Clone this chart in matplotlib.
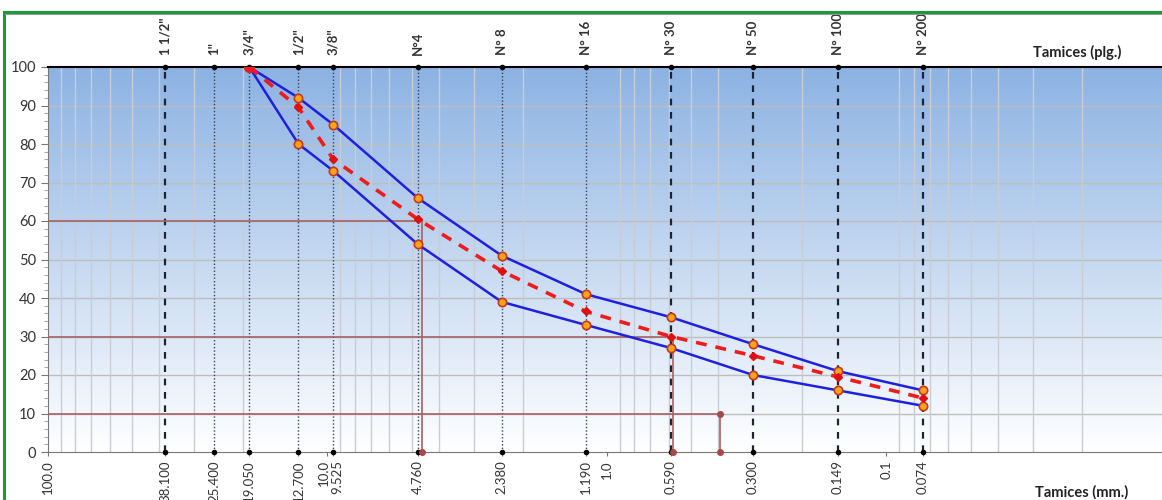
import numpy as np
import matplotlib
matplotlib.use("Agg")
import matplotlib.pyplot as plt
import matplotlib.transforms as mtransforms
from matplotlib.ticker import LogLocator, MultipleLocator, NullFormatter
from matplotlib.lines import Line2D

plt.rcParams['font.family'] = ['Lato', 'DejaVu Sans']

# tamices
tamiz_mm = [38.1, 25.4, 19.05, 12.7, 9.525, 4.76, 2.38, 1.19, 0.59, 0.3, 0.149, 0.074]
tamiz_plg = ['1 1/2"', '1"', '3/4"', '1/2"', '3/8"', 'N°4', 'N° 8', 'N° 16',
             'N° 30', 'N° 50', 'N° 100', 'N° 200']
tamiz_lbl = ['38.100', '25.400', '19.050', '12.700', '9.525', '4.760', '2.380',
             '1.190', '0.590', '0.300', '0.149', '0.074']
dec_val = [100.0, 10.0, 1.0, 0.1]
dec_lbl = ['100.0', '10.0', '1.0', '0.1']

# curvas (desde 3/4")
curva_mm = [19.05, 12.7, 9.525, 4.76, 2.38, 1.19, 0.59, 0.3, 0.149, 0.074]
lim_sup = [100, 92, 85, 66, 51, 41, 35, 28, 21, 16]
lim_inf = [100, 80, 73, 54, 39, 33, 27, 20, 16, 12]
muestra = [100, 89.5, 76, 60.5, 47, 36.5, 30, 25, 19.5, 14]

# D60, D30, D10
d_pct = [60, 30, 10]
d_mm = [4.6, 0.58, 0.395]

fig = plt.figure(figsize=(11.62, 5.0), dpi=100)
ax = fig.add_axes([48/1162, 1-452/500, (1162-48)/1162, 385/500])

# fondo degradado
grad = np.linspace(0, 1, 256).reshape(-1, 1)
top = np.array([0.55, 0.70, 0.89])
bot = np.array([1.0, 1.0, 1.0])
img = bot + (top - bot) * grad[..., None]
ax.imshow(img, extent=[0, 1, 0, 1], transform=ax.transAxes, origin='lower',
          aspect='auto', zorder=0)

ax.set_xscale('log')
ax.set_xlim(100, 0.01033)
ax.set_ylim(0, 100)

# rejilla
ax.xaxis.set_minor_locator(LogLocator(base=10, subs=np.arange(1, 10)))
ax.xaxis.set_minor_formatter(NullFormatter())
ax.grid(which='minor', axis='x', color='#c9cdd3', lw=1, zorder=1)
for v in range(10, 100, 10):
    ax.axhline(v, color='#bdbdbd', lw=1, zorder=1)

# lineas de tamices
for i, t in enumerate(tamiz_mm):
    if i == 0 or t < 1:
        ax.plot([t, t], [0, 100], color='#1c2333', lw=1.6, ls=(0, (3, 3)), zorder=2)
    else:
        ax.plot([t, t], [0, 100], color='#3a4256', lw=1, ls=(0, (1, 1.5)), zorder=2)
ax.plot(tamiz_mm, [100]*len(tamiz_mm), 'o', color='black', ms=3, zorder=5, clip_on=False)
ax.plot(tamiz_mm, [0]*len(tamiz_mm), 'o', color='black', ms=3, zorder=5, clip_on=False)

# D60, D30, D10
for p, d in zip(d_pct, d_mm):
    ax.plot([100, d], [p, p], color='#a86262', lw=1.2, zorder=3)
    ax.plot([d, d], [p, 0], color='#a86262', lw=1.2, zorder=3)
    ax.plot([d], [0], 'o', color='#a84848', ms=4, zorder=6, clip_on=False)
ax.plot([d_mm[2]], [d_pct[2]], 'o', color='#a84848', ms=4, zorder=6)

# curvas
for serie in (lim_sup, lim_inf):
    ax.plot(curva_mm, serie, color='#1f1fe0', lw=1.8, marker='o', ms=6,
            mfc='#f7a31c', mec='#c43a1a', mew=1.2, zorder=4)
ax.plot(curva_mm, muestra, color='#ee1c1c', lw=2.6, ls=(0, (3, 2.5)), marker='D', ms=4,
        mfc='#e01010', mec='#e01010', zorder=5)
ax.plot(curva_mm[:1], muestra[:1], 'o', color='#ee1c1c', ms=7, zorder=7)

# ejes
ax.set_xticks(dec_val + tamiz_mm)
ax.set_xticklabels(dec_lbl + tamiz_lbl, rotation=90, fontsize=9.5, color='#333333')
ax.tick_params(axis='x', which='major', length=3, color='#777777', pad=3)
ax.tick_params(axis='x', which='minor', length=0)
# separar 10.0 y 9.525
for lbl in ax.get_xticklabels():
    if lbl.get_text() == '10.0':
        lbl.set_transform(lbl.get_transform() + mtransforms.ScaledTranslation(-4/100, 0, fig.dpi_scale_trans))
    if lbl.get_text() == '9.525':
        lbl.set_transform(lbl.get_transform() + mtransforms.ScaledTranslation(4/100, 0, fig.dpi_scale_trans))
ax.yaxis.set_major_locator(MultipleLocator(10))
ax.yaxis.set_minor_locator(MultipleLocator(2))
ax.tick_params(axis='y', which='major', length=5, color='#777777', labelsize=10.5,
               labelcolor='#333333')
ax.tick_params(axis='y', which='minor', length=3, color='#999999')
for s in ('right', 'bottom', 'left'):
    ax.spines[s].set_color('#777777')
ax.spines['top'].set_color('black')
ax.spines['top'].set_linewidth(1.5)
ax.spines['right'].set_visible(False)

# etiquetas superiores
for t, lbl in zip(tamiz_mm, tamiz_plg):
    ax.text(t, 103, lbl, rotation=90, ha='center', va='bottom', fontsize=9.5,
            color='#333333', fontweight='bold', clip_on=False)
fig.text(1077/1162, 1-52/500, 'Tamices (plg.)', ha='center', va='center', fontsize=10.5,
         fontweight='bold', color='#222222')
fig.text(1082/1162, 1-492/500, 'Tamices (mm.)', ha='center', va='center', fontsize=10.5,
         fontweight='bold', color='#222222')

# marco verde
fig.add_artist(Line2D([4/1162, 4/1162], [0, 1-12/500], color='#1a9a3a', lw=2.2))
fig.add_artist(Line2D([4/1162, 1], [1-12/500, 1-12/500], color='#1a9a3a', lw=2.2))
fig.add_artist(Line2D([5/1162, 1], [1-14/500, 1-14/500], color='#999999', lw=0.8))

fig.savefig('out.png', dpi=100)
